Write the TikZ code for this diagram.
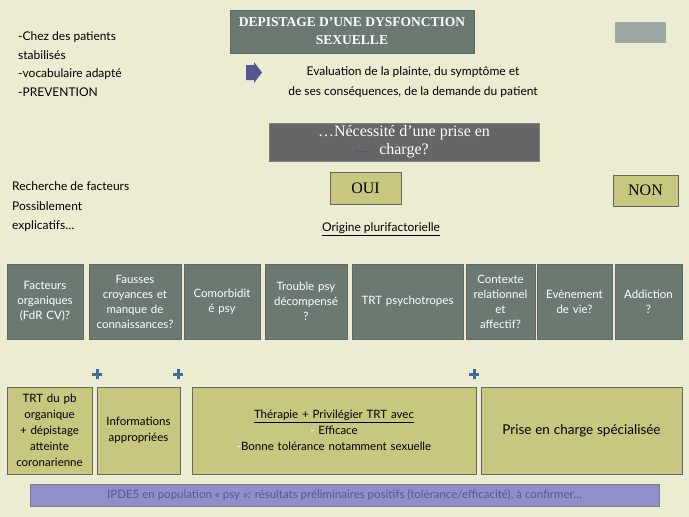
\documentclass[tikz,border=0pt]{standalone}
\usepackage{fontspec}
\setmainfont{Lato}
\newfontfamily\serifont{Liberation Serif}
\begin{document}
\begin{tikzpicture}[x=1pt,y=-1pt,
  dk/.style={draw=black!60,fill=dkc,text=white,align=center,inner sep=1pt,font=\fontsize{11.5}{15}\selectfont},
  ol/.style={draw=black!60,fill=olc,text=black,align=center,inner sep=1pt,font=\fontsize{11.5}{16}\selectfont},
  lbl/.style={align=left,anchor=west,font=\fontsize{12}{18.5}\selectfont,inner sep=0pt},
  plus/.style={plc,line width=3pt}]
\definecolor{bgc}{HTML}{ECECD3}
\definecolor{dkc}{HTML}{6A7A71}
\definecolor{olc}{HTML}{C8C77F}
\definecolor{plc}{HTML}{3F6E9A}
\definecolor{puc}{HTML}{8F8FCB}
\definecolor{put}{HTML}{55558F}
\fill[bgc] (0,0) rectangle (689,517);
\useasboundingbox (0,0) rectangle (689,517);
\newcommand\bx[6]{\node[#1,minimum width=#4-#2,minimum height=#5-#3,text width=#4-#2-4] (#6) at ({(#2+#4)/2},{(#3+#5)/2})}
\node[draw=black!60,fill=dkc,text=white,align=center,minimum width=244,minimum height=43,inner sep=0pt,font=\serifont\bfseries\fontsize{13.5}{18}\selectfont] (title) at (352,31.5) {DEPISTAGE D’UNE DYSFONCTION\\SEXUELLE};
\fill[fill=dkc!65] (615,22) rectangle (666,43);
\node[lbl] (left) at (18,64) {-Chez des patients\\stabilisés\\-vocabulaire adapté\\-PREVENTION};
\fill[fill=put] (246,65) -- (254,65) -- (254,62) -- (262,72.5) -- (254,83) -- (254,80) -- (246,80) -- cycle;
\node[align=center,font=\fontsize{12}{20}\selectfont] (eval) at (413,82) {Evaluation de la plainte, du symptôme et\\de ses conséquences, de la demande du patient};
\node[fill=gray!80!black,draw=black!50,minimum width=270,minimum height=38] (nec) at (404,142) {};
\node[text=white,align=center,font=\serifont\fontsize{16}{18}\selectfont,inner sep=0pt] (nect) at (404,142) {…Nécessité d’une prise en\\charge?};
\draw[->,put,thick] (368,151) -- (355,151);
\node[ol,minimum width=71,minimum height=32,font=\serifont\fontsize{16}{16}\selectfont] (oui) at (365.5,188) {OUI};
\node[ol,minimum width=65,minimum height=31,font=\serifont\fontsize{16}{16}\selectfont] (non) at (645.5,190.5) {NON};
\node[lbl,font=\fontsize{12}{19.5}\selectfont] (rech) at (12,207) {Recherche de facteurs\\Possiblement\\explicatifs…};
\node[font=\fontsize{12}{12}\selectfont] (orig) at (381,229) {\underline{Origine plurifactorielle}};
\bx{dk}{7}{264}{83}{339}{f1} {Facteurs organiques (FdR CV)?};
\bx{dk}{89}{264}{181}{339}{f2} {Fausses\\croyances et\\manque de\\connaissances?};
\bx{dk}{184}{264}{260}{339}{f3} {Comorbidit\\é psy};
\bx{dk}{265}{264}{347}{339}{f4} {Trouble psy décompensé\\?};
\bx{dk}{352}{264}{463}{339}{f5} {TRT psychotropes};
\bx{dk}{466}{264}{535}{339}{f6} {Contexte relationnel\\et\\affectif?};
\bx{dk}{537}{264}{612}{339}{f7} {Evènement de vie?};
\bx{dk}{615}{264}{682}{339}{f8} {Addiction\\?};
\foreach \px/\nm in {97/p1,178/p2,474/p3}{
  \coordinate (\nm) at (\px,374);
  \draw[plus] ([xshift=-5pt]\nm) -- ([xshift=5pt]\nm) ([yshift=-5pt]\nm) -- ([yshift=5pt]\nm);}
\bx{ol}{7}{387}{92}{474}{b1} {TRT du pb organique + dépistage atteinte coronarienne};
\bx{ol}{97}{387}{180}{474}{b2} {Informations appropriées};
\bx{ol}{192}{387}{476}{474}{b3} {\underline{Thérapie + Privilégier TRT avec}\\{\color{white}-} Efficace\\{\color{white}-}Bonne tolérance notamment sexuelle};
\bx{ol}{481}{387}{682}{474}{b4} {\fontsize{13.5}{16}\selectfont Prise en charge spécialisée};
\node[draw=black!50,fill=puc,text=put,minimum width=629,minimum height=22,font=\fontsize{11.5}{12}\selectfont] (bar) at (344.5,495) {IPDE5 en population « psy »: résultats préliminaires positifs (tolérance/efficacité), à confirmer…};
\end{tikzpicture}
\end{document}
